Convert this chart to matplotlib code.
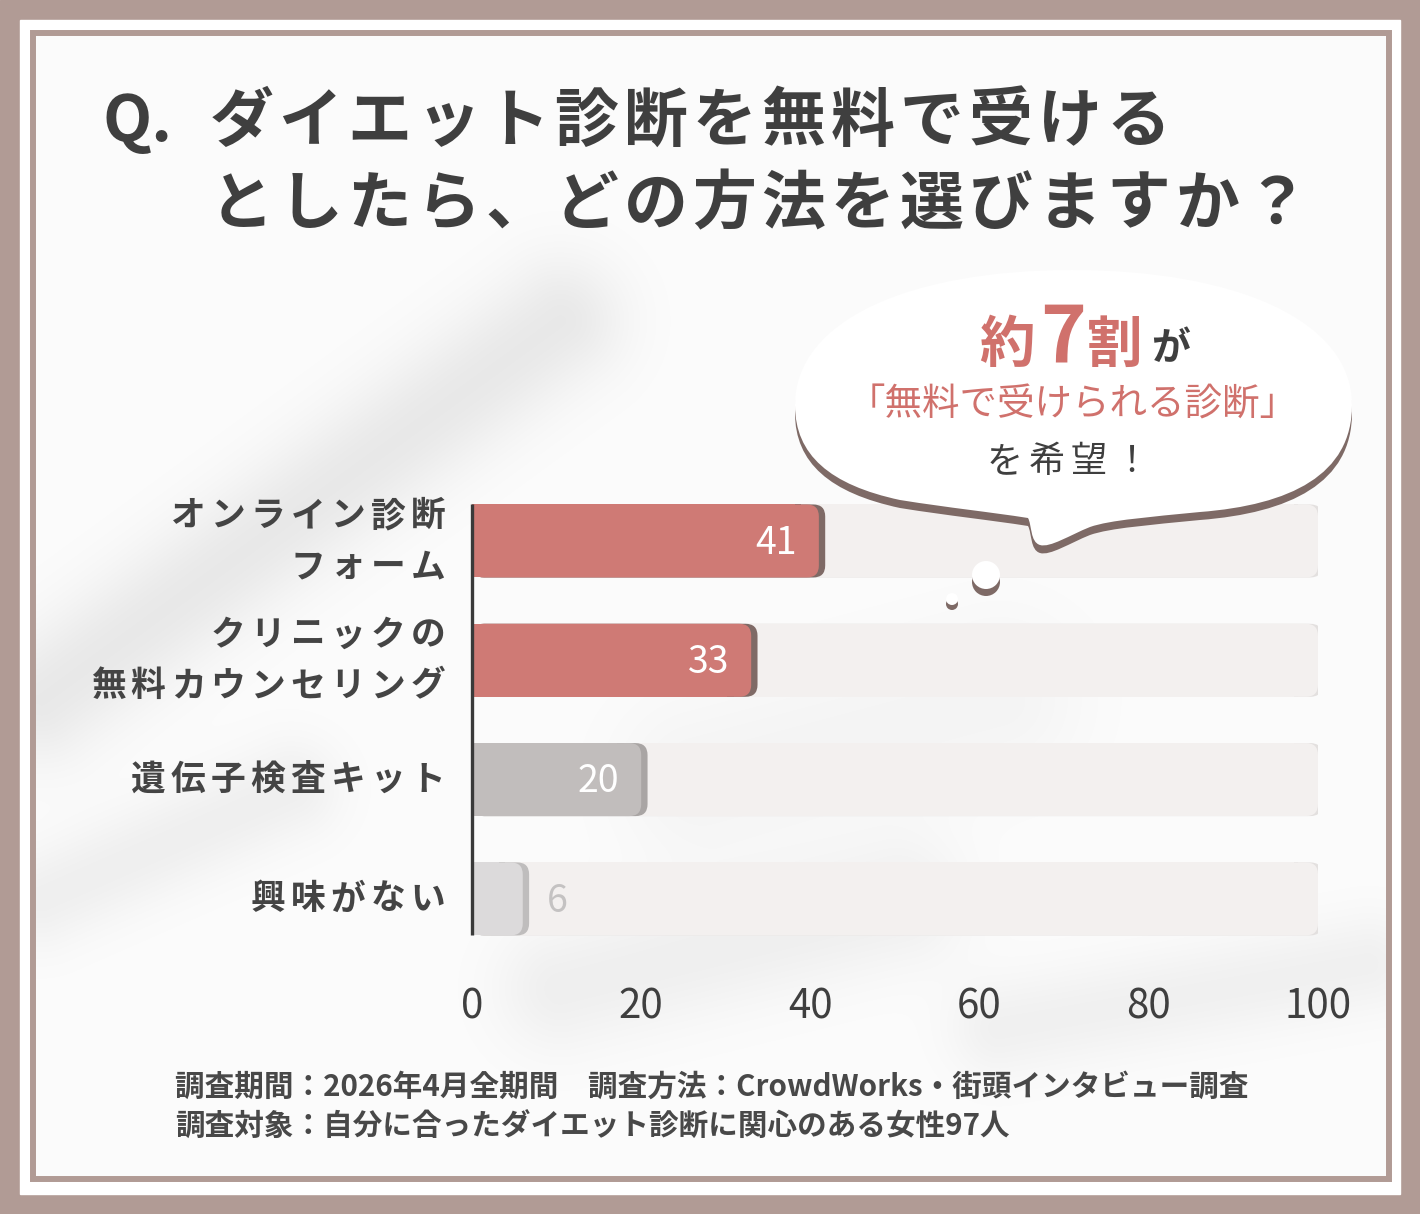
import matplotlib
matplotlib.use("Agg")
import numpy as np
import matplotlib.pyplot as plt
from matplotlib.patches import Rectangle, FancyBboxPatch, PathPatch, Circle
from matplotlib.path import Path

plt.rcParams['font.family'] = ['Noto Sans CJK JP', 'DejaVu Sans']

# ---------------- data ----------------
categories = ["オンライン診断\nフォーム", "クリニックの\n無料カウンセリング", "遺伝子検査キット", "興味がない"]
values = [41, 33, 20, 6]
bar_colors = ["#cf7a75", "#cf7a75", "#c1bdbc", "#dcdadb"]
shadow_colors = ["#7f6a66", "#7f6a66", "#a9a5a4", "#bfbdbd"]
label_colors = ["white", "white", "white", "#c4c2c2"]
xticks = [0, 20, 40, 60, 80, 100]
title_q = "Q."
title_line1 = "ダイエット診断を無料で受ける"
title_line2 = "としたら、どの方法を選びますか？"
bubble_big = ["約", "7", "割"]
bubble_ga = "が"
bubble_line2 = "「無料で受けられる診断」"
bubble_line3 = "を希望！"
footer1 = "調査期間：2026年4月全期間　調査方法：CrowdWorks・街頭インタビュー調査"
footer2 = "調査対象：自分に合ったダイエット診断に関心のある女性97人"

W, H = 1420, 1214
frame = "#b19b95"
dark = "#3f3f3f"
pink = "#d0716c"

fig = plt.figure(figsize=(W / 100, H / 100), dpi=100)

# ---------------- background ----------------
bg = fig.add_axes([0, 0, 1, 1], zorder=0)
bg.set_xlim(0, W); bg.set_ylim(H, 0); bg.axis('off')
bg.add_patch(Rectangle((0, 0), W, H, color=frame))
bg.add_patch(Rectangle((20, 20), 1380, 1174, color="white"))

# soft shadow texture inside the panel (smooth bands)
x0p, y0p, x1p, y1p = 36, 36, 1386, 1176
gx = np.linspace(x0p, x1p, 338)
gy = np.linspace(y0p, y1p, 285)
XX, YY = np.meshgrid(gx, gy)
shade = np.zeros_like(XX)
bands = [((40, 700), (560, 320), 45, 0.075),
         ((40, 900), (290, 790), 35, 0.05),
         ((560, 990), (900, 905), 45, 0.05),
         ((1000, 1030), (1370, 965), 35, 0.045),
         ((700, 780), (1000, 700), 60, 0.03)]
for (ax_, ay_), (bx_, by_), sig, amp in bands:
    dx, dy = bx_ - ax_, by_ - ay_
    t = np.clip(((XX - ax_) * dx + (YY - ay_) * dy) / (dx * dx + dy * dy), 0, 1)
    d2 = (XX - (ax_ + t * dx)) ** 2 + (YY - (ay_ + t * dy)) ** 2
    shade += amp * np.exp(-d2 / (2 * sig * sig))
base = 0.988 - shade
img = np.dstack([base, base, base])
bg.imshow(img, extent=(x0p, x1p, y1p, y0p), interpolation='bilinear', zorder=1, aspect='auto')
bg.set_xlim(0, W); bg.set_ylim(H, 0)

bg.add_patch(Rectangle((33, 33), 1356, 1146, fc="none", ec=frame, lw=4.3, zorder=2))

# ---------------- bar axes ----------------
px_per_x = (1318 - 472) / 100.0
px_per_y = 119.3
ax = fig.add_axes([472 / W, 1 - 960 / H, 846 / W, 480 / H], zorder=1)
ax.patch.set_alpha(0)
ax.set_xlim(0, 100)
ax.set_ylim(3.512, -0.511)
for s in ax.spines.values():
    s.set_visible(False)
ax.set_yticks([])
ax.set_xticks(xticks)
ax.set_xticklabels([str(t) for t in xticks], fontsize=29, color=dark)
ax.tick_params(axis='x', length=0, pad=19)

bh = 73 / px_per_y
r = 12 / px_per_x
asp = (12 / px_per_y) / r


def rbar(x1, yc, color, z):
    ax.add_patch(FancyBboxPatch((0, yc - bh / 2), x1, bh,
                                boxstyle=f"round,pad=0,rounding_size={r}",
                                mutation_aspect=asp, fc=color, ec='none', zorder=z))
    ax.add_patch(Rectangle((0, yc - bh / 2), max(x1 - 2 * r, 0.01), bh,
                           fc=color, ec='none', zorder=z))


for i, v in enumerate(values):
    rbar(100.5, i, "#e3e0df", 1)
    rbar(100, i, "#f3f0ef", 1.1)
    rbar(v + 0.75, i, shadow_colors[i], 2)
    rbar(v, i, bar_colors[i], 2.1)
    if v >= 10:
        ax.text(v - 2.6, i + 0.02, str(v), ha='right', va='center', fontsize=27,
                color=label_colors[i], zorder=4)
    else:
        ax.text(v + 2.9, i + 0.02, str(v), ha='left', va='center', fontsize=27,
                color=label_colors[i], zorder=4)

ax.plot([0, 0], [-bh / 2, len(values) - 1 + bh / 2], color="#3a3a3a", lw=2.4,
        solid_capstyle='butt', zorder=5, clip_on=False)

# ---------------- foreground (bubble, texts) ----------------
fg = fig.add_axes([0, 0, 1, 1], zorder=2)
fg.set_xlim(0, W); fg.set_ylim(H, 0); fg.axis('off')
fg.patch.set_alpha(0)


def spaced(s, x, y, adv, ha='left', **kw):
    n = len(s)
    if ha == 'right':
        x0 = x - adv * n
    elif ha == 'center':
        x0 = x - adv * n / 2
    else:
        x0 = x
    for k, ch in enumerate(s):
        fg.text(x0 + adv * (k + 0.5), y, ch, ha='center', va='center', **kw)


# title
fg.text(103, 122, title_q, ha='left', va='center', fontsize=46, weight='bold', color=dark)
spaced(title_line1, 207, 122, 69, fontsize=46, weight='bold', color=dark)
spaced(title_line2, 207, 205, 69, fontsize=46, weight='bold', color=dark)

# category labels
for i, cat in enumerate(categories):
    yd = H - ax.transData.transform((0, i))[1]
    lines = cat.split("\n")
    n = len(lines)
    for j, ln in enumerate(lines):
        yy = yd + (j - (n - 1) / 2) * 51
        spaced(ln, 448, yy, 40, ha='right', fontsize=25, weight='bold', color="#444444")

# bubble
def bubble_path(dy=0.0):
    verts = [
        (1072, 270),
        (1235, 270), (1352, 320), (1352, 405),
        (1352, 475), (1290, 505), (1200, 512),
        (1150, 517), (1110, 520), (1090, 527),
        (1070, 535), (1050, 548), (1040, 545),
        (1030, 542), (1032, 525), (1028, 518),
        (990, 512), (950, 508), (900, 500),
        (830, 485), (795, 455), (795, 405),
        (795, 320), (910, 270), (1072, 270),
    ]
    verts = [(x, y + dy) for x, y in verts]
    codes = [Path.MOVETO] + [Path.CURVE4] * 24
    return Path(verts, codes)


fg.add_patch(PathPatch(bubble_path(8), fc="#7e6a66", ec='none', zorder=1))
fg.add_patch(PathPatch(bubble_path(0), fc="white", ec='none', zorder=2))
fg.add_patch(Circle((986, 582), 14, fc="#7e6a66", ec='none', zorder=1))
fg.add_patch(Circle((986, 575), 14, fc="white", ec='none', zorder=2))
fg.add_patch(Circle((952, 604), 6, fc="#7e6a66", ec='none', zorder=1))
fg.add_patch(Circle((952, 599), 6, fc="white", ec='none', zorder=2))

fg.text(1007, 362, bubble_big[0], ha='center', va='baseline', fontsize=40, weight='bold', color=pink, zorder=3)
fg.text(1063, 362, bubble_big[1], ha='center', va='baseline', fontsize=56, weight='bold', color=pink, zorder=3)
fg.text(1115, 362, bubble_big[2], ha='center', va='baseline', fontsize=40, weight='bold', color=pink, zorder=3)
fg.text(1171, 360, bubble_ga, ha='center', va='baseline', fontsize=28, weight='bold', color=dark, zorder=3)
fg.text(1073, 405, bubble_line2, ha='center', va='center', fontsize=27, color=pink, zorder=3)
spaced(bubble_line3, 1068, 462, 42, ha='center', fontsize=26, color=dark, zorder=3)

# footer
fg.text(175, 1087, footer1, ha='left', va='center', fontsize=21.3, weight='bold', color="#484848")
fg.text(175, 1127, footer2, ha='left', va='center', fontsize=21.3, weight='bold', color="#484848")

fig.savefig("out.png", dpi=100)
